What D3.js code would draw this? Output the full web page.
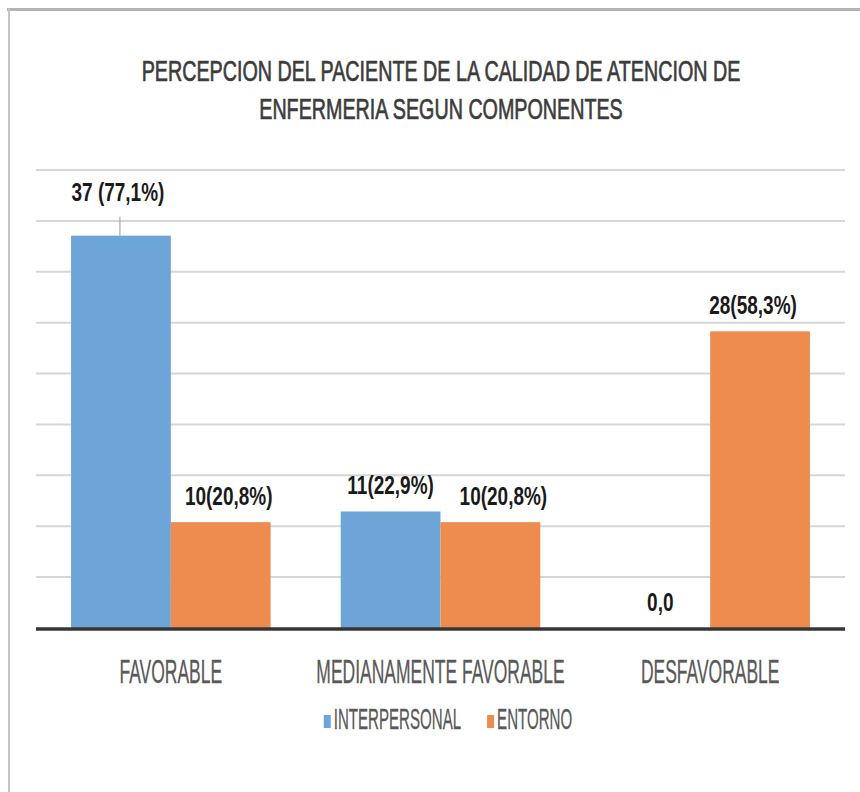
<!DOCTYPE html>
<html>
<head>
<meta charset="utf-8">
<script src="https://cdn.jsdelivr.net/npm/d3@7"></script>
<style>
  html, body { margin: 0; padding: 0; background: #fff; }
  svg { display: block; }
</style>
</head>
<body>
<script>
// Categories, series and values (percent of patients per component)
const categories = ["FAVORABLE", "MEDIANAMENTE FAVORABLE", "DESFAVORABLE"];
const seriesNames = ["INTERPERSONAL", "ENTORNO"];
const interpersonalPct = [77.1, 22.9, 0];
const entornoPct = [20.8, 20.8, 58.3];
const interpersonalLabels = ["37 (77,1%)", "11(22,9%)", "0,0"];
const entornoLabels = ["10(20,8%)", "10(20,8%)", "28(58,3%)"];
const gridTicks = [0, 10, 20, 30, 40, 50, 60, 70, 80, 90];
const titleLines = ["PERCEPCION DEL PACIENTE DE LA CALIDAD DE ATENCION DE", "ENFERMERIA  SEGUN COMPONENTES"];

const W = 860, H = 792;
const colors = { INTERPERSONAL: "#6ea5d9", ENTORNO: "#ee8b4e" };
const FONT = "'Liberation Sans', Arial, sans-serif";
// hand-placed nudges of the entorno value labels (px, horizontal)
const entornoLabelNudge = [8, 13, -7];

const rows = categories.map((c, i) => ({
  category: c,
  values: [
    { key: "INTERPERSONAL", value: interpersonalPct[i], label: interpersonalLabels[i], nudge: 0 },
    { key: "ENTORNO", value: entornoPct[i], label: entornoLabels[i], nudge: entornoLabelNudge[i] }
  ]
}));

const svg = d3.select("body").append("svg").attr("width", W).attr("height", H);

// chart frame
svg.append("rect").attr("width", W).attr("height", H).attr("fill", "#fff");
svg.append("line").attr("x1", 7).attr("x2", W).attr("y1", 9.5).attr("y2", 9.5)
  .attr("stroke", "#b3b3b3").attr("stroke-width", 3);
svg.append("line").attr("x1", 9).attr("x2", 9).attr("y1", 8).attr("y2", H)
  .attr("stroke", "#c4c4c4").attr("stroke-width", 2);

// narrow lettering: regular glyphs squeezed horizontally
function ctext(parent, x, y, str, o) {
  const t = parent.append("text")
    .attr("transform", `translate(${x},${y}) scale(${o.k},1)`)
    .attr("text-anchor", o.anchor || "middle")
    .style("font-family", FONT)
    .style("font-size", o.size + "px")
    .style("font-weight", o.weight || "normal")
    .attr("fill", o.fill)
    .text(str);
  if (o.stroke) t.attr("stroke", o.fill).attr("stroke-width", o.stroke);
  return t;
}

const plot = { left: 36, right: 845, top: 170, bottom: 628 };

const x0 = d3.scaleBand().domain(categories)
  .range([plot.left, plot.right]).paddingInner(0.26).paddingOuter(0.13);
const x1 = d3.scaleBand().domain(seriesNames).range([0, x0.bandwidth()]).padding(0);
const y = d3.scaleLinear().domain([0, 90]).range([plot.bottom, plot.top]);

// title
titleLines.forEach((t, i) => {
  ctext(svg, 441, 81 + i * 38, t, { size: 29, k: 0.68, fill: "#3c3c3c", stroke: 0.7 });
});

// horizontal gridlines
svg.append("g").selectAll("line").data(gridTicks.filter(t => t > 0)).join("line")
  .attr("x1", plot.left).attr("x2", plot.right)
  .attr("y1", d => y(d)).attr("y2", d => y(d))
  .attr("stroke", "#d6d6d6").attr("stroke-width", 2);

// bars
const groups = svg.append("g").selectAll("g").data(rows).join("g")
  .attr("transform", d => `translate(${x0(d.category)},0)`);

groups.selectAll("rect").data(d => d.values).join("rect")
  .attr("x", d => x1(d.key))
  .attr("width", x1.bandwidth())
  .attr("y", d => y(d.value))
  .attr("height", d => y(0) - y(d.value))
  .attr("fill", d => colors[d.key]);

// category axis baseline
svg.append("line").attr("x1", plot.left).attr("x2", plot.right)
  .attr("y1", y(0) + 1).attr("y2", y(0) + 1)
  .attr("stroke", "#363636").attr("stroke-width", 3.5);

// value labels
groups.each(function (d, gi) {
  const g = d3.select(this);
  d.values.forEach((v, si) => {
    const cx = x1(v.key) + x1.bandwidth() / 2;
    const top = y(v.value);
    const style = { size: 25, k: 0.76, weight: "bold", fill: "#1a1a1a" };
    if (gi === 0 && si === 0) {
      // label lifted above the tallest bar with a leader line
      g.append("line").attr("x1", cx - 1).attr("x2", cx - 1)
        .attr("y1", top - 19).attr("y2", top)
        .attr("stroke", "#9a9a9a").attr("stroke-width", 1);
      ctext(g, cx - 3, top - 35, v.label, style);
    } else {
      ctext(g, cx + v.nudge, top - 17, v.label, style);
    }
  });
});

// category labels
svg.append("g").selectAll("g").data(categories).join("g").each(function (c) {
  ctext(d3.select(this), x0(c) + x0.bandwidth() / 2, 683, c, { size: 33, k: 0.53, fill: "#595959", stroke: 0.3 });
});

// legend, centered
const legend = svg.append("g");
const legendK = 0.52, legendSize = 29;
let items = seriesNames.map(name => {
  const t = ctext(legend, 0, 0, name, { size: legendSize, k: legendK, fill: "#595959", anchor: "start", stroke: 0.3 });
  return { name, t, w: t.node().getComputedTextLength() * legendK };
});
const markerW = 7, markerH = 13, markerGap = 3, itemGap = 26;
const totalW = d3.sum(items, d => markerW + markerGap + d.w) + itemGap * (items.length - 1);
let lx = 448 - totalW / 2;
const ly = 729;
items.forEach(it => {
  legend.append("rect").attr("x", lx).attr("y", ly - markerH - 1)
    .attr("width", markerW).attr("height", markerH).attr("fill", colors[it.name]);
  it.t.attr("transform", `translate(${lx + markerW + markerGap},${ly}) scale(${legendK},1)`);
  lx += markerW + markerGap + it.w + itemGap;
});
</script>
</body>
</html>
